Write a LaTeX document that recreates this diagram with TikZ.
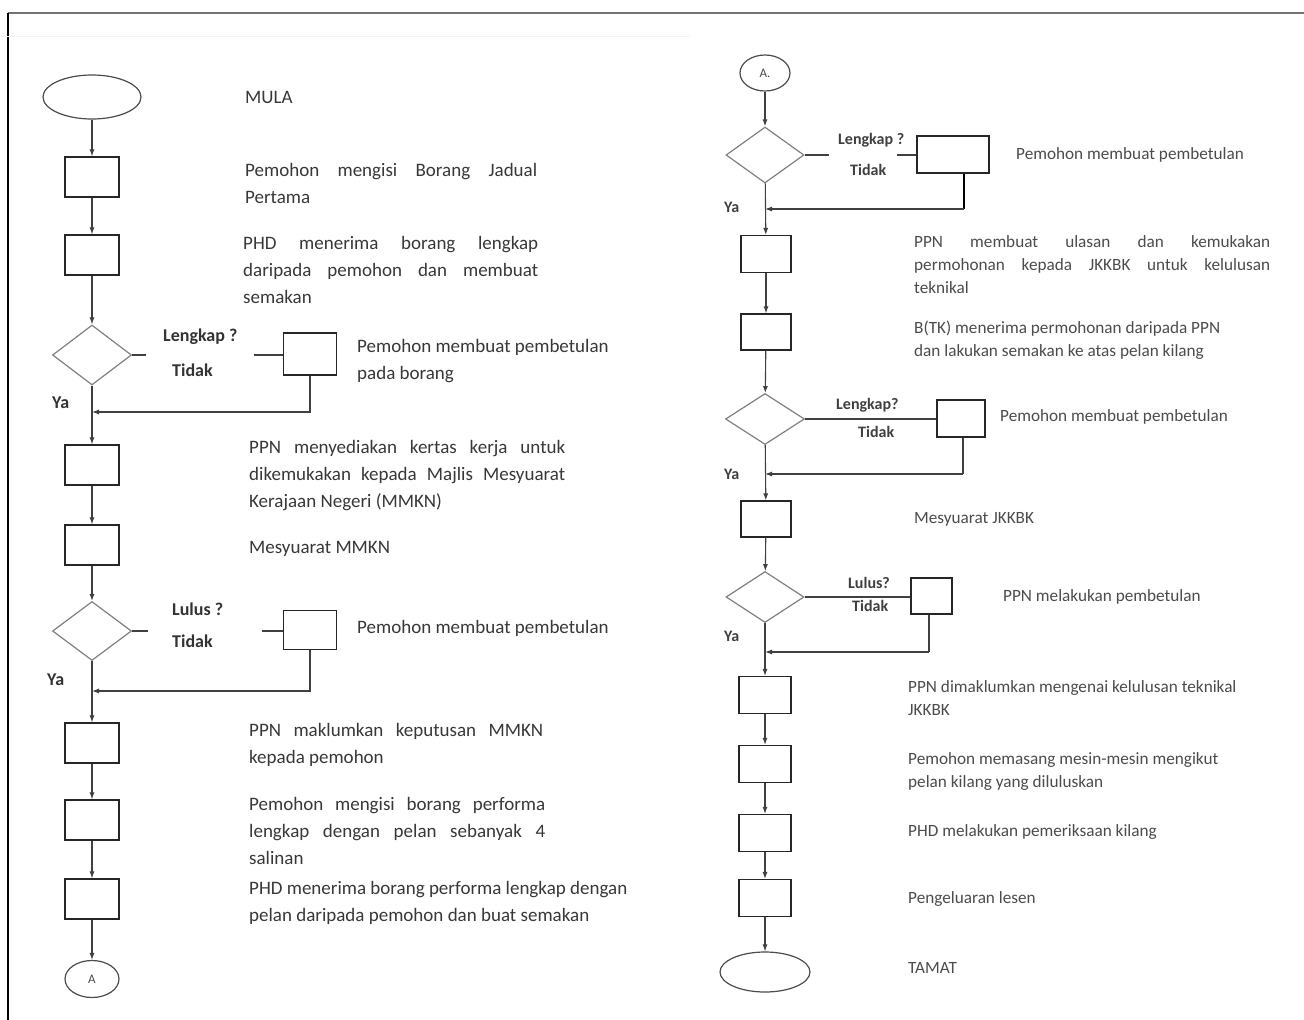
\documentclass[tikz,border=0pt]{standalone}
\usepackage{fontspec}
\setmainfont{Carlito}
\usetikzlibrary{shapes.geometric,arrows.meta,calc}
\begin{document}
\begin{tikzpicture}[x=1pt,y=-1pt,
  box/.style={draw=black!85, line width=1.2pt, minimum width=54pt, minimum height=40pt, inner sep=0pt},
  rbox/.style={box, minimum width=50pt, minimum height=37pt},
  dec/.style={diamond, draw=black!50, line width=1.2pt, minimum width=79pt, minimum height=60pt, inner sep=0pt},
  term/.style={ellipse, draw=black!70, line width=1.2pt, inner sep=0pt},
  flow/.style={draw=black!75, line width=1.1pt},
  arr/.style={flow, -{Latex[length=7pt,width=5pt]}},
  ltxt/.style={anchor=west, inner sep=0pt, font=\fontsize{19}{27}\selectfont, text=black!78, align=left},
  lbl/.style={anchor=west, inner sep=0pt, font=\fontsize{18}{22}\selectfont\bfseries, text=black!80},
  rtxt/.style={anchor=west, inner sep=0pt, font=\fontsize{17.2}{23}\selectfont, text=black!70, align=left},
  rlbl/.style={anchor=west, inner sep=0pt, font=\fontsize{16}{20}\selectfont\bfseries, text=black!75},
  ctxt/.style={font=\fontsize{13}{15}\selectfont, text=black!70},
]
\useasboundingbox (0,0) rectangle (1304,1020);
\fill[white] (0,0) rectangle (1304,1020);
\draw[black!55, line width=2pt] (8,13) -- (1304,13);
\draw[black, line width=1.5pt] (8,13) -- (8,1020);
\draw[black!5, line width=1pt] (0,36) -- (690,36);

% ---------------- left column ----------------
\node[term, minimum width=98pt, minimum height=44pt] (s) at (92,97) {};
\node[box] (b1) at (92,177) {};
\node[box] (b2) at (92,255) {};
\node[dec] (d1) at (92,355) {};
\node[box, minimum width=53pt, minimum height=42pt] (f1) at (310,354) {};
\node[box] (b3) at (92,465) {};
\node[box] (b4) at (92,545) {};
\node[dec, minimum height=59pt] (d2) at (92,631) {};
\node[box, minimum width=53pt, minimum height=39pt] (f2) at (310,630) {};
\node[box] (b5) at (92,743) {};
\node[box] (b6) at (92,820) {};
\node[box] (b7) at (92,899) {};
\node[term, minimum width=54pt, minimum height=37pt] (a1) at (92,979) {};
\node[ctxt] (a1t) at (a1) {A};

\draw[arr] (s) -- (b1);
\draw[arr] (b1) -- (b2);
\draw[arr] (b2) -- (d1);
\coordinate (g1a) at (146,355);
\coordinate (g1b) at (254,355);
\draw[flow] (d1.east) -- (g1a);
\draw[flow] (g1b) -- (g1b -| f1.west);
\coordinate (j1) at (92,412);
\draw[arr] (f1.south) |- (j1);
\draw[arr] (d1) -- (b3);
\draw[arr] (b3) -- (b4);
\draw[arr] (b4) -- (d2);
\coordinate (g2a) at (148,631);
\coordinate (g2b) at (262,631);
\draw[flow] (d2.east) -- (g2a);
\draw[flow] (g2b) -- (g2b -| f2.west);
\coordinate (j2) at (92,691);
\draw[arr] (f2.south) |- (j2);
\draw[arr] (d2) -- (b5);
\draw[arr] (b5) -- (b6);
\draw[arr] (b6) -- (b7);
\draw[arr] (b7) -- (a1);

\node[ltxt] (tmula) at (245,97) {MULA};
\node[ltxt] (t1) at (245,183.5) {\makebox[292pt][s]{Pemohon mengisi Borang Jadual}\\Pertama};
\node[ltxt] (t2) at (243,270) {\makebox[295pt][s]{PHD menerima borang lengkap}\\\makebox[295pt][s]{daripada pemohon dan membuat}\\semakan};
\node[lbl] (l1a) at (163,337) {Lengkap ?};
\node[lbl] (l1b) at (172,370) {Tidak};
\node[ltxt] (t3) at (357,361.5) {Pemohon membuat pembetulan\\pada borang};
\node[lbl] (y1) at (52,403) {Ya};
\node[ltxt] (t4) at (249,476) {\makebox[316pt][s]{PPN menyediakan kertas kerja untuk}\\\makebox[316pt][s]{dikemukakan kepada Majlis Mesyuarat}\\Kerajaan Negeri (MMKN)};
\node[ltxt] (t5) at (249,549) {Mesyuarat MMKN};
\node[lbl] (l2a) at (172,609) {Lulus ?};
\node[lbl] (l2b) at (172,641) {Tidak};
\node[ltxt] (t6) at (357,628) {Pemohon membuat pembetulan};
\node[lbl] (y2) at (47,680) {Ya};
\node[ltxt] (t7) at (249,744.5) {\makebox[294pt][s]{PPN maklumkan keputusan MMKN}\\kepada pemohon};
\node[ltxt] (t8) at (249,831) {\makebox[296pt][s]{Pemohon mengisi borang performa}\\\makebox[296pt][s]{lengkap dengan pelan sebanyak 4}\\salinan};
\node[ltxt] (t9) at (249,902.5) {PHD menerima borang performa lengkap dengan\\pelan daripada pemohon dan buat semakan};

% ---------------- right column ----------------
\node[term, minimum width=50pt, minimum height=36pt] (a2) at (765,73) {};
\node[ctxt] (a2t) at (a2) {A.};
\node[dec, minimum width=78pt, minimum height=56pt] (r1) at (765,155) {};
\node[box, minimum width=72pt, minimum height=37pt] (fr1) at (953,154.5) {};
\node[rbox] (rb2) at (766,254) {};
\node[rbox, minimum height=36pt] (rb3) at (766,332) {};
\node[dec, minimum height=51pt] (r2) at (765,419) {};
\node[box, minimum width=48pt, minimum height=37pt] (fr2) at (961,418.5) {};
\node[rbox, minimum height=36pt] (rb4) at (766,519) {};
\node[dec, minimum width=78pt, minimum height=51pt] (r3) at (765,597) {};
\node[box, minimum width=41pt, minimum height=36pt] (fr3) at (931.5,596) {};
\node[rbox, minimum width=52pt] (rb5) at (765,695) {};
\node[rbox, minimum width=52pt] (rb6) at (765,764) {};
\node[rbox, minimum width=52pt] (rb7) at (765,833) {};
\node[rbox, minimum width=52pt] (rb8) at (765,898) {};
\node[term, minimum width=90pt, minimum height=40pt] (e) at (765,972) {};

\draw[arr] (a2) -- (r1);
\coordinate (h1a) at (829,155);
\coordinate (h1b) at (897,155);
\draw[flow] (r1.east) -- (h1a);
\draw[flow] (h1b) -- (h1b -| fr1.west);
\coordinate (k1) at (964,209);
\coordinate (j3) at (765,209);
\draw[black, line width=2pt] (fr1.south -| k1) -- (k1);
\draw[arr] (k1) -- (j3);
\draw[arr] (r1) -- (rb2);
\draw[arr] (rb2) -- (rb3);
\draw[arr] (rb3) -- (r2);
\draw[flow] (r2.east) -- (r2.east -| fr2.west);
\coordinate (k2) at (963,474);
\coordinate (j4) at (765,474);
\draw[flow] (fr2.south -| k2) -- (k2);
\draw[arr] (k2) -- (j4);
\draw[arr] (r2) -- (rb4);
\draw[arr] (rb4) -- (r3);
\draw[flow] (r3.east) -- (r3.east -| fr3.west);
\coordinate (k3) at (929,652);
\coordinate (j5) at (765,652);
\draw[flow] (fr3.south -| k3) -- (k3);
\draw[arr] (k3) -- (j5);
\draw[arr] (r3) -- (rb5);
\draw[arr] (rb5) -- (rb6);
\draw[arr] (rb6) -- (rb7);
\draw[arr] (rb7) -- (rb8);
\draw[arr] (rb8) -- (e);

\node[rlbl] (m1a) at (838,140) {Lengkap ?};
\node[rlbl] (m1b) at (850,170) {Tidak};
\node[rtxt] (u1) at (1016,155) {Pemohon membuat pembetulan};
\node[rlbl] (y3) at (724,207) {Ya};
\node[rtxt] (u2) at (914,265) {\makebox[356pt][s]{PPN membuat ulasan dan kemukakan}\\\makebox[356pt][s]{permohonan kepada JKKBK untuk kelulusan}\\teknikal};
\node[rtxt] (u3) at (914,340.5) {B(TK) menerima permohonan daripada PPN\\dan lakukan semakan ke atas pelan kilang};
\node[rlbl] (m2a) at (836,405) {Lengkap?};
\node[rlbl] (m2b) at (858,432) {Tidak};
\node[rtxt] (u4) at (1000,417) {Pemohon membuat pembetulan};
\node[rlbl] (y4) at (724,474) {Ya};
\node[rtxt] (u5) at (914,519) {Mesyuarat JKKBK};
\node[rlbl] (m3a) at (848,583) {Lulus?};
\node[rlbl] (m3b) at (852,606) {Tidak};
\node[rtxt] (u6) at (1003,597) {PPN melakukan pembetulan};
\node[rlbl] (y5) at (724,636) {Ya};
\node[rtxt] (u7) at (908,698.5) {PPN dimaklumkan mengenai kelulusan teknikal\\JKKBK};
\node[rtxt] (u8) at (908,771.5) {Pemohon memasang mesin-mesin mengikut\\pelan kilang yang diluluskan};
\node[rtxt] (u9) at (908,832) {PHD melakukan pemeriksaan kilang};
\node[rtxt] (u10) at (908,899) {Pengeluaran lesen};
\node[rtxt] (u11) at (908,968) {TAMAT};
\end{tikzpicture}
\end{document}
